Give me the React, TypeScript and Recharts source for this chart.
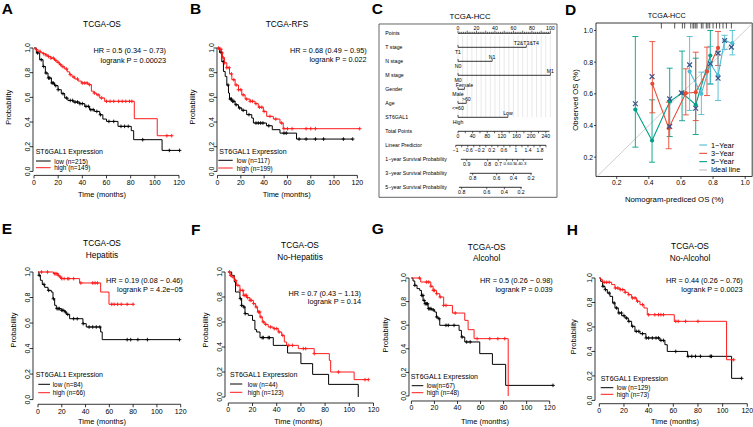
import React from "react";
import { ComposedChart, Line, Scatter, XAxis, YAxis, ReferenceLine, ReferenceArea, ErrorBar } from "recharts";

const FONT = "'Liberation Sans', Arial, Helvetica, sans-serif";
const RED = "#ff1a1a";
type Pt = [number, number];

// ---------------- Kaplan-Meier data (time in months, survival probability) ----------------
const aLow: Pt[] = [[0,1],[2,0.96],[4.7,0.905],[7.5,0.85],[9.4,0.797],[11.6,0.757],[14.4,0.716],[17,0.695],[19.9,0.662],[22.6,0.63],[25.4,0.595],[28,0.575],[32.3,0.562],[37.8,0.549],[42,0.527],[46,0.5],[50,0.486],[54.4,0.459],[57,0.424],[60,0.405],[69.5,0.365],[80.5,0.33],[82.5,0.257],[106,0.17],[120.5,0.17]];
const aHigh: Pt[] = [[0,1],[1.5,0.987],[3.3,0.973],[5.5,0.962],[7.5,0.954],[9.5,0.943],[11.6,0.932],[14,0.918],[17,0.9],[19,0.884],[21,0.865],[23,0.848],[25.4,0.83],[27.5,0.807],[29.5,0.784],[31.5,0.765],[33.7,0.749],[36.5,0.732],[39.2,0.716],[44.7,0.703],[47.5,0.65],[49.5,0.635],[51.6,0.62],[54.4,0.595],[58.5,0.568],[83,0.427],[102,0.289],[114,0.289]];
const aLowCens = [3,6,8,10,12,13,15,16,18,20,24,27,30,32,34,36,38,40,43,45,47,49,52,55,62,66,72,75,78,90,112,120.5];
const aHighCens = [2,5,8,10,12,14,16,18,20,22,24,27,30,33,36,40,42,44,46,50,53,56,60,63,66,70,73,76,79,81,110,114];

const bLow: Pt[] = [[0,1],[1.7,0.965],[3.7,0.89],[5.1,0.81],[6.6,0.77],[8,0.7],[9.4,0.635],[10.3,0.586],[12.3,0.568],[15.1,0.54],[18,0.514],[20.8,0.495],[25,0.46],[29.4,0.432],[30.8,0.392],[42,0.37],[47,0.338],[53.6,0.31],[67.8,0.262],[116,0.262]];
const bHigh: Pt[] = [[0,1],[1.7,0.99],[3.1,0.96],[4.3,0.92],[6,0.88],[8,0.84],[10.3,0.79],[12.3,0.743],[15.1,0.7],[18,0.662],[20.8,0.62],[23.7,0.586],[28,0.568],[32.2,0.549],[35,0.52],[39.3,0.486],[42.2,0.446],[47.9,0.424],[53.6,0.392],[56.4,0.346],[122,0.346]];
const bLowCens = [3,5,9,11,12,13,14,16,19,22,27,33,35,37,39,44,57,59,70,76,84,91,108,116];
const bHighCens = [1,2,3,4,5,6,8,10,12,14,16,18,20,22,25,28,30,33,36,38,40,45,50,55,57,60,64,76,80,84,122];

const eLow: Pt[] = [[0,1],[0.8,0.974],[2,0.935],[3.6,0.903],[5.6,0.88],[8.4,0.856],[11.2,0.843],[12.6,0.79],[14,0.739],[15.4,0.713],[19.6,0.7],[22.4,0.687],[23.8,0.668],[26.6,0.634],[37.8,0.595],[40.6,0.569],[52.7,0.53],[54,0.47],[119,0.47]];
const eHigh: Pt[] = [[0,1],[13,0.987],[16.8,0.974],[18,0.96],[19.6,0.948],[35,0.914],[52.7,0.843],[59.7,0.747],[80,0.747]];
const eLowCens = [1,5,9,13,16,17,18,20,21,23,25,30,33,38,43,46,49,52,75,78,84,92,119];
const eHighCens = [3,8,14,15,16,17,19,20,22,25,26,30,36,46,48,50,62,64,67,70,75,80];

const fLow: Pt[] = [[0,1],[2.8,0.973],[5,0.92],[6,0.84],[9.6,0.787],[11,0.733],[12.4,0.72],[13.8,0.667],[16.5,0.653],[20,0.613],[22,0.539],[23.4,0.52],[26.2,0.475],[37.2,0.413],[49,0.352],[60,0.267],[69.7,0.181],[82.9,0.101],[107.4,0]];
const fHigh: Pt[] = [[0,1],[1.4,0.973],[2.8,0.96],[5,0.933],[6.9,0.893],[9.6,0.853],[12.4,0.813],[15.2,0.795],[17.9,0.773],[20.7,0.747],[22.6,0.72],[24.2,0.68],[26.2,0.64],[28.1,0.6],[30.3,0.581],[33,0.56],[37.2,0.547],[41.3,0.52],[44.1,0.493],[46.3,0.44],[48.2,0.413],[57.9,0.387],[71,0.347],[83.5,0.293],[84.6,0.2],[104,0.139],[115.7,0.139]];
const fLowCens = [10,11,13,14,28,29,33,34];
const fHighCens = [1,2,4,6,8,10,12,13,14,15,16,18,19,21,23,25,26,27,29,31,35,38,40,42,45,50,53,62,64,71,91,113,115.7];

const gLow: Pt[] = [[0,1],[1.4,0.975],[2.9,0.938],[4.9,0.91],[7.2,0.895],[8.7,0.853],[10.1,0.81],[11.6,0.782],[14.5,0.74],[17.4,0.73],[20.2,0.712],[21.7,0.67],[23.1,0.655],[24.6,0.599],[41.4,0.556],[43.4,0.5],[46.3,0.458],[59.3,0.359],[70.3,0.268],[81.8,0.09],[122.9,0.09]];
const gHigh: Pt[] = [[0,1],[8.1,0.966],[16.8,0.93],[18.8,0.895],[21.7,0.867],[24.6,0.839],[28,0.768],[35.6,0.703],[46.3,0.641],[49.2,0.562],[54.4,0.486],[84,0]];
const gLowCens = [3,9,10,11,12,13,14,15,16,17,19,22,24,30,32,37,44,48,51,122.9];
const gHighCens = [7,13,15,17,19,20,22,25,28,30,38,57,68,75,81];

const hLow: Pt[] = [[0,1],[1.1,0.973],[2.7,0.932],[4.6,0.905],[6.5,0.877],[8.6,0.85],[10.8,0.796],[12.7,0.755],[15.4,0.714],[18.1,0.692],[20.8,0.673],[23.5,0.646],[26.2,0.605],[28.9,0.564],[33,0.545],[37.8,0.51],[49.2,0.49],[53.2,0.455],[55.1,0.4],[71.6,0.36],[107.3,0.18],[115.4,0.18]];
const hHigh: Pt[] = [[0,1],[1.1,0.986],[2.7,0.965],[10,0.946],[12.7,0.918],[16.8,0.905],[20.8,0.883],[23.5,0.864],[26.2,0.837],[30.3,0.81],[33,0.782],[36.2,0.755],[38.9,0.7],[60.8,0.646],[103.2,0.332],[109,0.332]];
const hLowCens = [3,5,8,12,14,16,18,20,22,24,27,30,32,35,38,40,43,46,48,50,52,62,72,75,78,82,90,91,115.4];
const hHighCens = [4,6,8,13,15,17,19,21,24,27,29,31,35,40,45,48,50,52,62,64,70,80,109];

const kmTimeTicks = [0, 20, 40, 60, 80, 100, 120];
const kmProbTicks = [0, 0.2, 0.4, 0.6, 0.8, 1.0];

// ---------------- Nomogram data ----------------
const nomoRowNames = ["Points","T stage","N stage","M stage","Gender","Age","ST6GAL1","Total Points","Linear Predictor","1\u2212year Survival Probability","3\u2212year Survival Probability","5\u2212year Survival Probability"];
const tStageLevels = ["T1","T2&T3&T4"]; const tStagePoints = [0, 74];
const nStageLevels = ["N0","N1"]; const nStagePoints = [0, 37];
const mStageLevels = ["M0","M1"]; const mStagePoints = [0, 100];
const genderLevels = ["Male","Female"]; const genderPoints = [0, 7];
const ageLevels = ["<=60",">60"]; const agePoints = [0, 9];
const st6Levels = ["High","Low"]; const st6Points = [0, 54];
const pointsAxisLabels = [0, 20, 40, 60, 80, 100];
const totalPointsLabels = [0, 40, 80, 120, 160, 200, 240];
const totalPointsEnd = 250;
const totalPerPoint = 2.525; // total points per 1 point on the Points scale
const lpLabels = [-1, -0.6, -0.2, 0.2, 0.6, 1, 1.4, 1.8];
const lpAtZeroPoints = -0.924; const lpPerPoint = 1 / 32.58;
const surv1Probs = [0.9,0.8,0.7,0.6,0.5,0.4,0.3]; const surv1Pos = [9.4,32.1,43.6,52.6,59.1,64.5,70.7]; const surv1Range = [3, 92];
const surv3Probs = [0.8,0.6,0.4,0.2]; const surv3Pos = [15.9,41.9,60,79]; const surv3Range = [12.7, 79.8];
const surv5Probs = [0.8,0.6,0.4,0.2]; const surv5Pos = [4,31.1,50.2,68.2]; const surv5Range = [1, 69];

// ---------------- Calibration data ----------------
const cal1X = [0.654,0.727,0.783,0.831,0.872,0.92];
const cal1Y = [0.741,0.6,0.79,0.716,0.937,0.92];
const cal1Lo = [0.495,0.469,0.66,0.558,0.88,0.846];
const cal1Hi = [0.962,0.737,0.9,0.867,0.97,1.0];
const cal3X = [0.422,0.524,0.63,0.692,0.762,0.831];
const cal3Y = [0.663,0.383,0.604,0.61,0.741,0.89];
const cal3Lo = [0.48,0.253,0.467,0.431,0.589,0.779];
const cal3Hi = [0.93,0.547,0.758,0.863,0.895,0.994];
const cal5X = [0.316,0.42,0.53,0.607,0.692,0.783];
const cal5Y = [0.501,0.305,0.551,0.606,0.531,0.842];
const cal5Lo = [0.263,0.168,0.33,0.43,0.343,0.663];
const cal5Hi = [0.962,0.562,0.762,0.87,0.825,1.0];
const calCorrX = [0.316,0.42,0.53,0.53,0.603,0.654,0.692,0.783,0.831,0.831,0.872,0.914];
const calCorrY = [0.537,0.709,0.568,0.394,0.606,0.783,0.509,0.79,0.857,0.699,0.937,0.895];
const calRug = [0.478,0.561,0.609,0.623,0.661,0.675,0.681,0.692,0.7,0.727,0.737,0.758,0.768,0.779,0.8,0.821,0.841,0.862,0.883,0.914];
const calTicks = [0.2, 0.4, 0.6, 0.8, 1.0];
const C1 = "#4DBBD5", C3 = "#E64B35", C5 = "#00A087", CX = "#3C5488";

// ---------------- helpers ----------------
function stepAt(curve: Pt[], t: number): number {
  let s = curve[0][1];
  for (const [ti, si] of curve) { if (ti <= t) s = si; else break; }
  return s;
}
const toRows = (c: Pt[]) => c.map(([t, s]) => ({ t, s }));
const toCens = (c: Pt[], cens: number[]) => cens.map((t) => ({ t, s: stepAt(c, t) }));

const makePlus = (color: string) => (props: any) => {
  const { cx, cy } = props;
  if (cx == null || cy == null) return <g />;
  return <path d={`M${cx - 1.8},${cy}H${cx + 1.8}M${cx},${cy - 1.8}V${cy + 1.8}`} stroke={color} strokeWidth={0.9} fill="none" />;
};
const plusBlack = makePlus("#000");
const plusRed = makePlus(RED);

const RotYTick = (props: any) => {
  const { x, y, payload } = props;
  const cx = x - 2.6;
  return (
    <text x={cx} y={y} transform={`rotate(-90 ${cx} ${y})`} textAnchor="middle" dy="0.35em" fontSize={7} fontFamily={FONT} fill="#000">
      {Number(payload.value).toFixed(1)}
    </text>
  );
};

interface KMCfg { id: string; axX: number; x0: number; x120: number; y1: number; y0: number; axY: number; padR?: number; low: Pt[]; high: Pt[]; lowC: number[]; highC: number[]; }

const kmPanels: KMCfg[] = [
  { id: "A", axX: 33.3, x0: 34.3, x120: 179.3, y1: 48.3, y0: 171.7, axY: 175.7, low: aLow, high: aHigh, lowC: aLowCens, highC: aHighCens },
  { id: "B", axX: 217.3, x0: 217.8, x120: 357.7, y1: 48.3, y0: 171.7, axY: 175.7, low: bLow, high: bHigh, lowC: bLowCens, highC: bHighCens },
  { id: "E", axX: 33.3, x0: 38.3, x120: 181, y1: 271.7, y0: 399.3, axY: 404, low: eLow, high: eHigh, lowC: eLowCens, highC: eHighCens },
  { id: "F", axX: 225, x0: 228.3, x120: 373.5, y1: 271.7, y0: 396.7, axY: 402.7, low: fLow, high: fHigh, lowC: fLowCens, highC: fHighCens },
  { id: "G", axX: 409.3, x0: 411.7, x120: 550, y1: 277.7, y0: 395.7, axY: 400.7, low: gLow, high: gHigh, lowC: gLowCens, highC: gHighCens },
  { id: "H", axX: 595, x0: 599.3, x120: 747.3, y1: 278.3, y0: 400.7, axY: 404, low: hLow, high: hHigh, lowC: hLowCens, highC: hHighCens },
];

function KMChart(p: KMCfg) {
  const pxT = (p.x120 - p.x0) / 120;
  const pxS = p.y0 - p.y1;
  const padL = 30, padT = 8, padB = 22;
  const padR = p.padR ?? 6;
  const tMin = (p.axX - p.x0) / pxT;
  const tMax = 120 + padR / pxT;
  const sMin = -(p.axY - p.y0) / pxS;
  const sMax = 1 + padT / pxS;
  const left = p.axX - padL;
  const top = p.y1 - padT;
  const width = padL + (p.x120 + padR - p.axX);
  const height = p.axY - top + padB;
  return (
    <div style={{ position: "absolute", left, top }}>
      <ComposedChart width={width} height={height} margin={{ top: 0, right: 0, bottom: 0, left: 0 }}>
        <XAxis type="number" dataKey="t" domain={[tMin, tMax]} allowDataOverflow ticks={kmTimeTicks} interval={0} tickSize={3} tickMargin={1.5} axisLine={false} tickLine={{ stroke: "#000", strokeWidth: 0.8 }} tick={{ fontSize: 7, fill: "#000", fontFamily: FONT }} height={padB} />
        <YAxis type="number" dataKey="s" domain={[sMin, sMax]} allowDataOverflow ticks={kmProbTicks} interval={0} tickSize={3} tickMargin={0} axisLine={false} tickLine={{ stroke: "#000", strokeWidth: 0.8 }} tick={(tp: any) => <RotYTick {...tp} />} width={padL} />
        <ReferenceLine segment={[{ x: 0, y: sMin }, { x: 120, y: sMin }]} stroke="#000" strokeWidth={0.8} ifOverflow="visible" />
        <ReferenceLine segment={[{ x: tMin, y: 0 }, { x: tMin, y: 1 }]} stroke="#000" strokeWidth={0.8} ifOverflow="visible" />
        <Line data={toRows(p.low)} dataKey="s" type="stepAfter" stroke="#000" strokeWidth={1} dot={false} isAnimationActive={false} />
        <Line data={toRows(p.high)} dataKey="s" type="stepAfter" stroke={RED} strokeWidth={1} dot={false} isAnimationActive={false} />
        <Scatter data={toCens(p.low, p.lowC)} dataKey="s" shape={plusBlack} isAnimationActive={false} />
        <Scatter data={toCens(p.high, p.highC)} dataKey="s" shape={plusRed} isAnimationActive={false} />
      </ComposedChart>
    </div>
  );
}

// ---------------- Nomogram ----------------
interface Tk { p: number; r: number; dir: number; len: number; label?: string; off: number; fs: number; }
const nomoVars = [
  { row: 1, levels: tStageLevels, pts: tStagePoints },
  { row: 2, levels: nStageLevels, pts: nStagePoints },
  { row: 3, levels: mStageLevels, pts: mStagePoints },
  { row: 4, levels: genderLevels, pts: genderPoints },
  { row: 5, levels: ageLevels, pts: agePoints },
  { row: 6, levels: st6Levels, pts: st6Points },
];
const lpToPts = (lp: number) => (lp - lpAtZeroPoints) / lpPerPoint;
const fmtLp = (v: number) => (v < 0 ? "\u2212" + String(Math.abs(Math.round(v * 10) / 10)) : String(Math.round(v * 10) / 10));

function buildNomoTicks(): Tk[] {
  const out: Tk[] = [];
  for (let v = 0; v <= 100; v += 2) out.push({ p: v, r: 0, dir: -1, len: v % 10 === 0 ? 2.6 : 1.5, label: pointsAxisLabels.includes(v) ? String(v) : undefined, off: -5.2, fs: 5.2 });
  nomoVars.forEach(({ row, levels, pts }) => levels.forEach((lv, i) => out.push({ p: pts[i], r: row, dir: -1, len: 2.4, label: lv, off: i === 0 ? 4.8 : -4.4, fs: 5.2 })));
  for (let v = 0; v <= 240; v += 20) out.push({ p: v / totalPerPoint, r: 7, dir: 1, len: 2, label: totalPointsLabels.includes(v) ? String(v) : undefined, off: 4.8, fs: 5.2 });
  for (let k = 0; k <= 15; k++) {
    const v = Math.round((-1 + 0.2 * k) * 10) / 10;
    out.push({ p: lpToPts(v), r: 8, dir: 1, len: 2, label: lpLabels.some((l) => Math.abs(l - v) < 1e-6) ? fmtLp(v) : undefined, off: 4.6, fs: 5 });
  }
  surv1Probs.forEach((pr, i) => out.push({ p: surv1Pos[i], r: 9, dir: 1, len: 2, label: pr.toFixed(1), off: 4.6, fs: i >= 3 ? 4.3 : 5.2 }));
  surv3Probs.forEach((pr, i) => out.push({ p: surv3Pos[i], r: 10, dir: 1, len: 2, label: pr.toFixed(1), off: 4.6, fs: 5.2 }));
  surv5Probs.forEach((pr, i) => out.push({ p: surv5Pos[i], r: 11, dir: 1, len: 2, label: pr.toFixed(1), off: 4.6, fs: 5.2 }));
  return out;
}
const nomoTicks = buildNomoTicks();
const nomoLines: { r: number; a: number; b: number }[] = [
  { r: 0, a: 0, b: 100 },
  ...nomoVars.map((v) => ({ r: v.row, a: v.pts[0], b: v.pts[1] })),
  { r: 7, a: 0, b: totalPointsEnd / totalPerPoint },
  { r: 8, a: lpToPts(-1), b: lpToPts(2) },
  { r: 9, a: surv1Range[0], b: surv1Range[1] },
  { r: 10, a: surv3Range[0], b: surv3Range[1] },
  { r: 11, a: surv5Range[0], b: surv5Range[1] },
];
const nomoGrid: number[] = [];
for (let v = 0; v <= 100; v += 5) nomoGrid.push(v);

const NomoTick = (props: any) => {
  const { cx, cy, payload } = props;
  if (cx == null || !payload) return <g />;
  const tk = payload as Tk;
  return (
    <g>
      <line x1={cx} y1={cy} x2={cx} y2={cy + tk.dir * tk.len} stroke="#000" strokeWidth={0.6} />
      {tk.label !== undefined && (
        <text x={cx} y={cy + tk.off} textAnchor="middle" dominantBaseline="central" fontSize={tk.fs} fontFamily={FONT} fill="#000">{tk.label}</text>
      )}
    </g>
  );
};

const NOMO = { l: 379.3, t: 24, r: 557.3, b: 197.3, zeroPx: 458.3, pxPerPt: 0.924, row0: 33.3, rowPx: 14 };

function Nomogram() {
  const box = NOMO;
  const pMin = (box.l - box.zeroPx) / box.pxPerPt, pMax = (box.r - box.zeroPx) / box.pxPerPt;
  const rMin = (box.t - box.row0) / box.rowPx, rMax = (box.b - box.row0) / box.rowPx;
  return (
    <div style={{ position: "absolute", left: box.l - 1, top: box.t - 1 }}>
      <ComposedChart width={box.r - box.l + 2} height={box.b - box.t + 2} margin={{ top: 1, right: 1, bottom: 1, left: 1 }}>
        <XAxis type="number" dataKey="p" domain={[pMin, pMax]} allowDataOverflow hide />
        <YAxis type="number" dataKey="r" domain={[rMin, rMax]} allowDataOverflow reversed hide />
        <ReferenceArea x1={pMin} x2={pMax} y1={rMin} y2={rMax} fill="none" fillOpacity={0} stroke="#555" strokeWidth={0.9} ifOverflow="visible" />
        {nomoGrid.map((v) => (
          <ReferenceLine key={"g" + v} segment={[{ x: v, y: 0.15 }, { x: v, y: 6 }]} stroke="#d2d2d2" strokeWidth={0.5} ifOverflow="visible" />
        ))}
        {nomoLines.map((ln) => (
          <ReferenceLine key={"l" + ln.r} segment={[{ x: ln.a, y: ln.r }, { x: ln.b, y: ln.r }]} stroke="#000" strokeWidth={0.8} ifOverflow="visible" />
        ))}
        <Scatter data={nomoTicks} dataKey="r" shape={NomoTick} isAnimationActive={false} />
      </ComposedChart>
    </div>
  );
}

// ---------------- Calibration ----------------
const calRows = (xs: number[], ys: number[], lo: number[], hi: number[]) => xs.map((x, i) => ({ x, y: ys[i], err: [ys[i] - lo[i], hi[i] - ys[i]] }));

const CrossShape = (props: any) => {
  const { cx, cy } = props;
  if (cx == null) return <g />;
  const d = 2.4;
  return <path d={`M${cx - d},${cy - d}L${cx + d},${cy + d}M${cx - d},${cy + d}L${cx + d},${cy - d}`} stroke={CX} strokeWidth={1.2} fill="none" />;
};
const RugShape = (props: any) => {
  const { cx, cy } = props;
  if (cx == null) return <g />;
  return <line x1={cx} y1={cy} x2={cx} y2={cy + 5.5} stroke="#111" strokeWidth={0.7} />;
};

function Calibration() {
  const box = { l: 596.3, t: 22.5, r: 752.5, b: 176 };
  const x0px = 584.9, pxX = 160.6, y0px = 188.3, pxY = 158.3;
  const xMin = (box.l - x0px) / pxX, xMax = (box.r - x0px) / pxX;
  const yMin = (y0px - box.b) / pxY, yMax = (y0px - box.t) / pxY;
  const yw = 24, xh = 18;
  const series = [
    { key: "5", c: C5, rows: calRows(cal5X, cal5Y, cal5Lo, cal5Hi) },
    { key: "3", c: C3, rows: calRows(cal3X, cal3Y, cal3Lo, cal3Hi) },
    { key: "1", c: C1, rows: calRows(cal1X, cal1Y, cal1Lo, cal1Hi) },
  ];
  return (
    <div style={{ position: "absolute", left: box.l - yw, top: box.t - 1 }}>
      <ComposedChart width={yw + (box.r - box.l) + 0.5} height={1 + (box.b - box.t) + xh} margin={{ top: 1, right: 0.5, bottom: 0, left: 0 }}>
        <XAxis type="number" dataKey="x" domain={[xMin, xMax]} allowDataOverflow ticks={calTicks} interval={0} tickFormatter={(v: number) => v.toFixed(1)} tickSize={2.5} tickMargin={1} axisLine={false} tickLine={{ stroke: "#000", strokeWidth: 0.7 }} tick={{ fontSize: 6.8, fill: "#000", fontFamily: FONT }} height={xh} />
        <YAxis type="number" dataKey="y" domain={[yMin, yMax]} allowDataOverflow ticks={calTicks} interval={0} tickFormatter={(v: number) => v.toFixed(1)} tickSize={2} tickMargin={1} axisLine={false} tickLine={{ stroke: "#000", strokeWidth: 0.7 }} tick={{ fontSize: 6.8, fill: "#000", fontFamily: FONT }} width={yw} />
        <ReferenceLine segment={[{ x: yMin, y: yMin }, { x: xMax, y: xMax }]} stroke="#c8c8c8" strokeWidth={0.9} ifOverflow="hidden" />
        {series.map((s) => (
          <Line key={s.key} data={s.rows} dataKey="y" type="linear" stroke={s.c} strokeWidth={1.1} dot={{ r: 2.1, fill: s.c, stroke: s.c, strokeWidth: 0 }} isAnimationActive={false}>
            <ErrorBar dataKey="err" width={3} stroke={s.c} strokeWidth={0.9} direction="y" />
          </Line>
        ))}
        <Scatter data={calCorrX.map((x, i) => ({ x, y: calCorrY[i] }))} dataKey="y" shape={CrossShape} isAnimationActive={false} />
        <Scatter data={calRug.map((x) => ({ x, y: yMax }))} dataKey="y" shape={RugShape} isAnimationActive={false} />
        <ReferenceArea x1={xMin} x2={xMax} y1={yMin} y2={yMax} fill="none" fillOpacity={0} stroke="#222" strokeWidth={0.9} ifOverflow="visible" />
      </ComposedChart>
    </div>
  );
}

// ---------------- Text overlay ----------------
function Txt({ x, y, children, size = 7.3, anchor = "start", weight = "normal", rot = 0 }: any) {
  return (
    <text x={x} y={y} fontSize={size} textAnchor={anchor} dominantBaseline="central" fontFamily={FONT} fontWeight={weight} fill="#000" transform={rot ? `rotate(${rot} ${x} ${y})` : undefined}>
      {children}
    </text>
  );
}

const kmTexts = [
  { letter: [1.7, 8.3, "A"], titles: [[102, 24, "TCGA-OS"]], hr: [166, 50, 60.7, "HR = 0.5 (0.34 \u2212 0.73)", "logrank P = 0.00023"], leg: [35.7, 151, 161, 167.7, 36, 50.7, 54.3, "low (n=215)", "high (n=149)"], prob: [8.3, 107.3], time: [102, 194] },
  { letter: [190, 8.3, "B"], titles: [[287, 24, "TCGA-RFS"]], hr: [366.7, 50, 59.3, "HR = 0.68 (0.49 \u2212 0.95)", "logrank P = 0.022"], leg: [219.3, 151, 160.3, 168, 218.3, 232.7, 236.7, "low (n=117)", "high (n=199)"], prob: [192.3, 107], time: [286.7, 194.3] },
  { letter: [1.7, 228.3, "E"], titles: [[102, 243.3, "TCGA-OS"], [102, 255, "Hepatitis"]], hr: [182.7, 280, 289, "HR = 0.19 (0.08 \u2212 0.46)", "logrank P = 4.2e\u221205"], leg: [35.7, 374.3, 384.3, 392.7, 38.3, 50, 52.7, "low (n=84)", "high (n=66)"], prob: [13.3, 330], time: [102, 421.7] },
  { letter: [191, 229.2, "F"], titles: [[300, 245, "TCGA-OS"], [300, 256.7, "No-Hepatitis"]], hr: [361, 293.3, 301.7, "HR = 0.7 (0.43 \u2212 1.13)", "logrank P = 0.14"], leg: [230, 374.3, 384, 392.3, 230, 242.3, 247.7, "low (n=44)", "high (n=123)"], prob: [205, 330], time: [298.3, 421.7] },
  { letter: [371.7, 228.3, "G"], titles: [[486.7, 246.7, "TCGA-OS"], [486.7, 257.7, "Alcohol"]], hr: [552.7, 280, 289, "HR = 0.5 (0.26 \u2212 0.98)", "logrank P = 0.039"], leg: [410.7, 376.7, 385.7, 392.7, 411.7, 423.3, 426.7, "low(n=67)", "high (n=48)"], prob: [385, 335], time: [485, 421.7] },
  { letter: [566.7, 229.2, "H"], titles: [[690, 245.7, "TCGA-OS"], [690, 257.7, "No-Alcohol"]], hr: [742.7, 280, 289, "HR = 0.44 (0.26 \u2212 0.76)", "logrank P = 0.0023"], leg: [600.7, 378.3, 387.7, 394.3, 600.7, 613.3, 616.7, "low (n=129)", "high (n=73)"], prob: [573.3, 336.7], time: [675, 421.7] },
];

const calLegend = [
  { label: "1\u2212Year", c: C1 },
  { label: "3\u2212Year", c: C3 },
  { label: "5\u2212Year", c: C5 },
  { label: "Ideal line", c: "#c0c0c0" },
];

function Overlay() {
  return (
    <svg width={753} height={427} style={{ position: "absolute", left: 0, top: 0, pointerEvents: "none" }}>
      {kmTexts.map((k, i) => {
        const [hx, hy, ly, hiy, lx1, lx2, tx, lowL, highL] = k.leg as any[];
        return (
          <g key={i}>
            <Txt x={k.letter[0]} y={k.letter[1]} size={15.5} weight="bold">{k.letter[2]}</Txt>
            {k.titles.map((t: any, j: number) => <Txt key={j} x={t[0]} y={t[1]} size={8.3} anchor="middle">{t[2]}</Txt>)}
            <Txt x={k.hr[0]} y={k.hr[1]} anchor="end">{k.hr[3]}</Txt>
            <Txt x={k.hr[0]} y={k.hr[2]} anchor="end">{k.hr[4]}</Txt>
            <Txt x={hx} y={hy} size={7}>ST6GAL1 Expression</Txt>
            <line x1={lx1} y1={ly} x2={lx2} y2={ly} stroke="#000" strokeWidth={1} />
            <line x1={lx1} y1={hiy} x2={lx2} y2={hiy} stroke={RED} strokeWidth={1} />
            <Txt x={tx} y={ly} size={6.4}>{lowL}</Txt>
            <Txt x={tx} y={hiy} size={6.4}>{highL}</Txt>
            <Txt x={k.prob[0]} y={k.prob[1]} rot={-90} anchor="middle" size={7.5}>Probability</Txt>
            <Txt x={k.time[0]} y={k.time[1]} anchor="middle" size={7.5}>Time (months)</Txt>
          </g>
        );
      })}
      <Txt x={371.7} y={8.3} size={15.5} weight="bold">C</Txt>
      <Txt x={470} y={16} size={7.8} anchor="middle">TCGA-HCC</Txt>
      {nomoRowNames.map((n, i) => (
        <Txt key={n} x={385.3} y={NOMO.row0 + NOMO.rowPx * i} size={5.2}>{n}</Txt>
      ))}
      <Txt x={565} y={9.2} size={15.5} weight="bold">D</Txt>
      <Txt x={666.7} y={15} size={7.2} anchor="middle">TCGA-HCC</Txt>
      <Txt x={575} y={100} size={7.8} rot={-90} anchor="middle">Observed OS (%)</Txt>
      <Txt x={674.3} y={199.3} size={7.8} anchor="middle">Nomogram-prediced OS (%)</Txt>
      {calLegend.map((l, i) => {
        const y = 145 + i * 8.33;
        return (
          <g key={l.label}>
            <line x1={699.3} y1={y} x2={707} y2={y} stroke={l.c} strokeWidth={1.1} />
            <Txt x={711} y={y} size={7.3}>{l.label}</Txt>
          </g>
        );
      })}
    </svg>
  );
}

export default function App() {
  return (
    <div style={{ position: "absolute", left: 0, top: 0, width: 753, height: 427, background: "#fff", overflow: "hidden", fontFamily: FONT }}>
      {kmPanels.map((p) => <KMChart key={p.id} {...p} />)}
      <Nomogram />
      <Calibration />
      <Overlay />
    </div>
  );
}
